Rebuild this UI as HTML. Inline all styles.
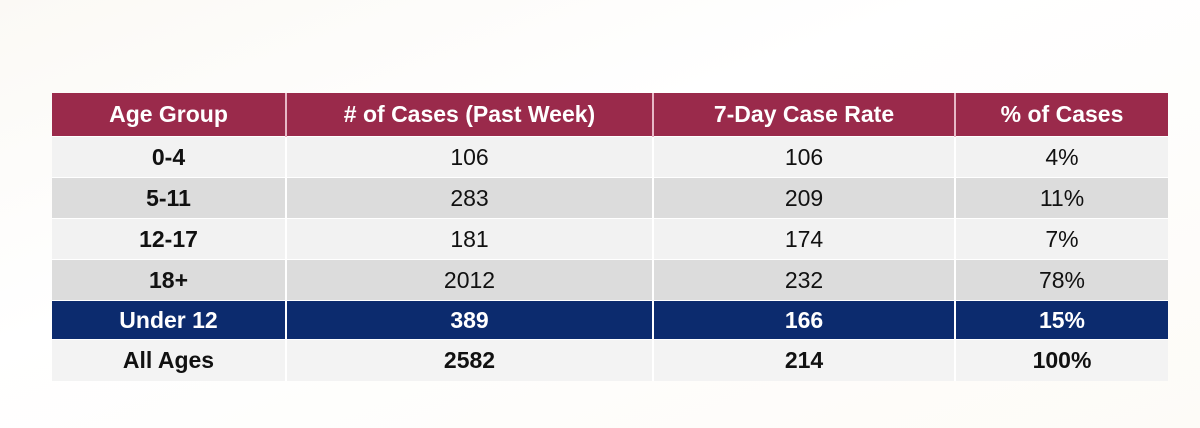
<!DOCTYPE html>
<html><head><meta charset="utf-8">
<style>
html,body{margin:0;padding:0;}
body{width:1200px;height:428px;background:linear-gradient(160deg,#fbf9f5 0%,#ffffff 40%,#fdfbf7 100%);position:relative;overflow:hidden;font-family:"Liberation Sans",Arial,sans-serif;}
table{position:absolute;left:52px;top:93px;width:1116px;border-collapse:collapse;}
td,th{text-align:center;padding:0;font-size:23px;color:#111;border-left:2px solid #fff;}
td:first-child,th:first-child{border-left:none;}
th{background:#9a2a4b;color:#fff;font-weight:bold;height:43px;border-left:2px solid #e8b8c6;}
th:first-child{border-left:none;}
tr.r td{height:40px;border-top:1px solid #fff;}
tr.l td{background:#f2f2f2;}
tr.g td{background:#dcdcdc;}
tr.n td{background:#0c2b6e;color:#fff;font-weight:bold;height:38px;}
tr.a td{background:#f3f3f3;font-weight:bold;height:41px;}
td:first-child{font-weight:bold;}
</style></head><body>
<table>
<tr>
<th style="width:233px">Age Group</th>
<th style="width:365px"># of Cases (Past Week)</th>
<th style="width:300px">7-Day Case Rate</th>
<th>% of Cases</th></tr>
<tr class="r l"><td>0-4</td><td>106</td><td>106</td><td>4%</td></tr>
<tr class="r g"><td>5-11</td><td>283</td><td>209</td><td>11%</td></tr>
<tr class="r l"><td>12-17</td><td>181</td><td>174</td><td>7%</td></tr>
<tr class="r g"><td>18+</td><td>2012</td><td>232</td><td>78%</td></tr>
<tr class="r n"><td>Under 12</td><td>389</td><td>166</td><td>15%</td></tr>
<tr class="r a"><td>All Ages</td><td>2582</td><td>214</td><td>100%</td></tr>
</table>
</body></html>
